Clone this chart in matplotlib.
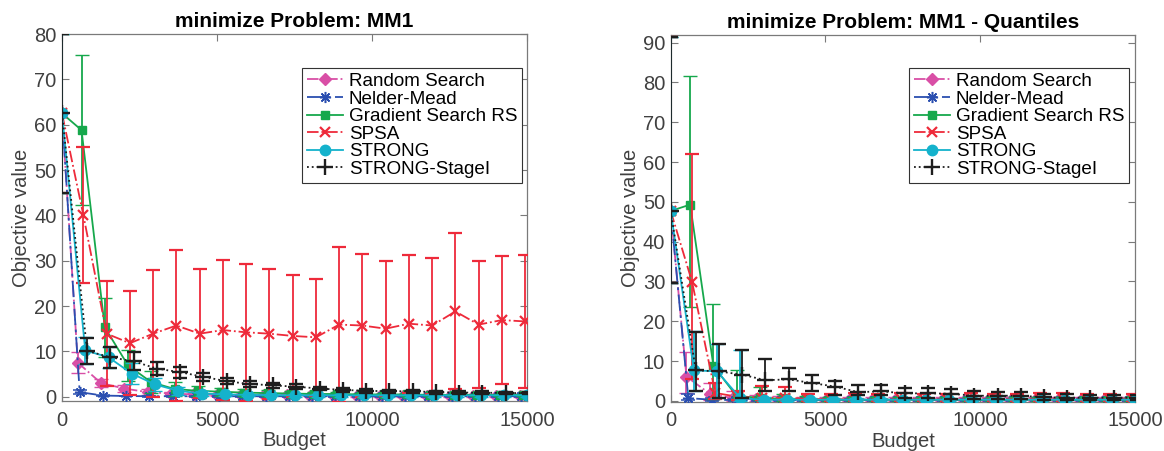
import numpy as np
import matplotlib
matplotlib.use("Agg")
import matplotlib.pyplot as plt
from matplotlib.lines import Line2D

plt.rcParams['font.family'] = ['Liberation Sans', 'DejaVu Sans']
FS = 14.5

# ---------------- data ----------------
budget = [0, 750, 1500, 2250, 3000, 3750, 4500, 5250, 6000, 6750, 7500,
          8250, 9000, 9750, 10500, 11250, 12000, 12750, 13500, 14250, 15000]

algorithms = ["Random Search", "Nelder-Mead", "Gradient Search RS",
              "SPSA", "STRONG", "STRONG-StageI"]

# MM1: mean objective value and half-width of the error bar
rs_mean = [62.5, 7.5, 3.0, 1.8, 1.0, 0.7, 0.5, 0.4, 0.35, 0.3, 0.3,
           0.25, 0.25, 0.2, 0.2, 0.2, 0.2, 0.2, 0.2, 0.2, 0.2]
rs_err = [17.5, 2.3, 0.9, 0.8, 0.6, 0.4, 0.3, 0.3, 0.25, 0.2, 0.2,
          0.2, 0.2, 0.2, 0.2, 0.2, 0.2, 0.2, 0.2, 0.2, 0.2]
nm_mean = [62.5, 1.0, 0.25, 0.15, 0.1, 0.1, 0.1, 0.1, 0.1, 0.1, 0.1,
           0.1, 0.1, 0.1, 0.1, 0.1, 0.1, 0.1, 0.1, 0.1, 0.1]
nm_err = [17.5, 0.4, 0.2, 0.1, 0.1, 0.1, 0.1, 0.1, 0.1, 0.1, 0.1,
          0.1, 0.1, 0.1, 0.1, 0.1, 0.1, 0.1, 0.1, 0.1, 0.1]
gs_mean = [62.5, 58.8, 15.3, 6.9, 3.2, 1.7, 1.3, 1.1, 0.9, 0.8, 0.7,
           0.6, 0.6, 0.5, 0.5, 0.5, 0.4, 0.4, 0.4, 0.4, 0.4]
gs_err = [17.5, 16.5, 6.5, 3.4, 2.4, 1.5, 1.1, 0.9, 0.8, 0.6, 0.5,
          0.5, 0.4, 0.4, 0.4, 0.3, 0.3, 0.3, 0.3, 0.3, 0.3]
spsa_mean = [62.5, 40.0, 13.9, 11.8, 13.9, 15.7, 13.9, 14.7, 14.2, 13.9, 13.4,
             13.1, 15.9, 15.7, 15.0, 16.1, 15.7, 18.8, 15.9, 16.9, 16.6]
spsa_err = [17.5, 15.0, 11.6, 11.5, 14.0, 16.6, 14.2, 15.4, 15.1, 14.3, 13.4,
            12.9, 17.1, 15.8, 14.9, 15.2, 15.0, 17.2, 14.0, 14.2, 14.6]
strong_mean = [62.5, 10.2, 8.7, 5.1, 2.7, 1.3, 0.7, 0.5, 0.4, 0.35, 0.3,
               0.3, 0.3, 0.3, 0.3, 0.3, 0.3, 0.3, 0.3, 0.3, 0.3]
strong_err = [17.5, 2.9, 2.3, 2.4, 1.4, 0.9, 0.5, 0.4, 0.3, 0.3, 0.3,
              0.3, 0.3, 0.3, 0.3, 0.3, 0.3, 0.3, 0.3, 0.3, 0.3]
stage_mean = [62.5, 10.1, 8.7, 7.8, 6.2, 5.4, 4.4, 3.4, 2.8, 2.5, 2.2,
              1.8, 1.5, 1.3, 1.2, 1.2, 1.0, 0.9, 0.9, 0.8, 0.8]
stage_err = [17.5, 2.9, 2.3, 2.0, 1.5, 1.2, 0.9, 0.7, 0.6, 0.5, 0.5,
             0.4, 0.4, 0.4, 0.3, 0.3, 0.3, 0.3, 0.3, 0.3, 0.3]

# MM1 quantiles: median, lower and upper quantile
rs_q_mid = [47.7, 6.1, 1.8, 0.7, 0.4, 0.3, 0.3, 0.3, 0.3, 0.3, 0.3,
            0.3, 0.3, 0.3, 0.3, 0.3, 0.3, 0.3, 0.3, 0.3, 0.3]
rs_q_lo = [29.5, 2.1, 0.3, 0.1, 0.05, 0.05, 0.05, 0.05, 0.05, 0.05, 0.05,
           0.05, 0.05, 0.05, 0.05, 0.05, 0.05, 0.05, 0.05, 0.05, 0.05]
rs_q_hi = [91.5, 12.2, 4.6, 2.5, 1.5, 1.2, 1.0, 1.0, 1.0, 1.0, 1.0,
           1.0, 1.0, 1.0, 1.0, 1.0, 1.0, 1.0, 1.0, 1.0, 1.0]
nm_q_mid = [47.7, 0.7, 0.3, 0.2, 0.2, 0.2, 0.2, 0.2, 0.2, 0.2, 0.2,
            0.2, 0.2, 0.2, 0.2, 0.2, 0.2, 0.2, 0.2, 0.2, 0.2]
nm_q_lo = [29.5, 0.2, 0.1, 0.05, 0.05, 0.05, 0.05, 0.05, 0.05, 0.05, 0.05,
           0.05, 0.05, 0.05, 0.05, 0.05, 0.05, 0.05, 0.05, 0.05, 0.05]
nm_q_hi = [91.5, 1.8, 0.8, 0.5, 0.5, 0.5, 0.5, 0.5, 0.5, 0.5, 0.5,
           0.5, 0.5, 0.5, 0.5, 0.5, 0.5, 0.5, 0.5, 0.5, 0.5]
gs_q_mid = [47.7, 49.3, 8.8, 1.2, 0.8, 0.5, 0.4, 0.3, 0.3, 0.3, 0.3,
            0.3, 0.3, 0.3, 0.3, 0.3, 0.3, 0.3, 0.3, 0.3, 0.3]
gs_q_lo = [29.5, 23.7, 0.5, 0.3, 0.2, 0.1, 0.1, 0.1, 0.1, 0.1, 0.1,
           0.1, 0.1, 0.1, 0.1, 0.1, 0.1, 0.1, 0.1, 0.1, 0.1]
gs_q_hi = [91.5, 81.5, 24.4, 7.8, 3.5, 1.8, 1.3, 1.1, 1.0, 1.0, 1.0,
           1.0, 1.0, 1.0, 1.0, 1.0, 1.0, 1.0, 1.0, 1.0, 1.0]
spsa_q_mid = [47.7, 29.9, 2.0, 1.0, 0.8, 0.8, 0.5, 0.4, 0.4, 0.4, 0.4,
              0.4, 0.4, 0.4, 0.4, 0.4, 0.4, 0.4, 0.4, 0.4, 0.4]
spsa_q_lo = [29.5, 5.5, 0.5, 0.2, 0.2, 0.2, 0.1, 0.1, 0.1, 0.1, 0.1,
             0.1, 0.1, 0.1, 0.1, 0.1, 0.1, 0.1, 0.1, 0.1, 0.1]
spsa_q_hi = [91.5, 61.9, 4.5, 2.5, 3.8, 3.6, 1.8, 1.8, 2.0, 1.8, 1.9,
             1.8, 1.7, 2.0, 1.8, 1.8, 1.9, 2.0, 1.8, 1.7, 1.8]
strong_q_mid = [47.7, 7.7, 7.4, 0.7, 0.3, 0.3, 0.3, 0.3, 0.3, 0.3, 0.3,
                0.3, 0.3, 0.3, 0.3, 0.3, 0.3, 0.3, 0.3, 0.3, 0.3]
strong_q_lo = [29.5, 2.5, 0.7, 0.1, 0.05, 0.05, 0.05, 0.05, 0.05, 0.05, 0.05,
               0.05, 0.05, 0.05, 0.05, 0.05, 0.05, 0.05, 0.05, 0.05, 0.05]
strong_q_hi = [91.5, 17.5, 14.3, 12.7, 1.0, 0.8, 0.7, 0.7, 0.7, 0.7, 0.7,
               0.7, 0.7, 0.7, 0.7, 0.7, 0.7, 0.7, 0.7, 0.7, 0.7]
stage_q_mid = [47.7, 7.7, 7.4, 6.6, 5.2, 5.4, 4.5, 3.6, 2.2, 2.4, 1.9,
               1.9, 1.8, 1.3, 1.3, 1.3, 0.9, 0.8, 0.8, 0.8, 0.8]
stage_q_lo = [29.5, 2.4, 0.7, 0.7, 2.4, 2.6, 2.4, 1.5, 1.5, 1.5, 0.7,
              0.7, 0.6, 0.5, 0.4, 0.4, 0.3, 0.3, 0.3, 0.3, 0.3]
stage_q_hi = [91.5, 17.3, 14.3, 12.8, 10.4, 8.3, 6.4, 5.0, 3.9, 3.9, 3.2,
              3.2, 2.9, 2.6, 2.3, 2.2, 1.8, 1.7, 1.6, 1.5, 1.5]

# ---------------- styles ----------------
colors = ["#d94fa6", "#2b4fb0", "#16a84c", "#ee2a3a", "#14b2cc", "#1e1e1e"]
markers = ["D", (8, 2, 0), "s", "x", "o", "+"]
msizes = [6.5, 8, 5.5, 7, 7.5, 11]
mews = [1.0, 1.1, 1.0, 1.6, 1.0, 1.7]
linestyles = ["-.", (0, (9, 2.5, 1.5, 2.5)), "-", "-.", "-", ":"]
dodge = [-240, -180, -120, -60, 0, 60]

mm1_mean = [rs_mean, nm_mean, gs_mean, spsa_mean, strong_mean, stage_mean]
mm1_err = [rs_err, nm_err, gs_err, spsa_err, strong_err, stage_err]
q_mid = [rs_q_mid, nm_q_mid, gs_q_mid, spsa_q_mid, strong_q_mid, stage_q_mid]
q_lo = [rs_q_lo, nm_q_lo, gs_q_lo, spsa_q_lo, strong_q_lo, stage_q_lo]
q_hi = [rs_q_hi, nm_q_hi, gs_q_hi, spsa_q_hi, strong_q_hi, stage_q_hi]

W, H = 1164, 451
fig = plt.figure(figsize=(W / 100, H / 100), dpi=100)
ax1 = fig.add_axes([62 / W, 50 / H, 465 / W, 367 / H])
ax2 = fig.add_axes([670.7 / W, 49.3 / H, 464.3 / W, 366.7 / H])

b = np.array(budget, dtype=float)


def draw(ax, mids, yerrs):
    for i in range(len(algorithms)):
        x = b + np.where(b > 0, dodge[i], 0)
        ax.errorbar(x, mids[i], yerr=yerrs[i], color=colors[i],
                    ls=linestyles[i], lw=1.3, marker=markers[i],
                    ms=msizes[i], mew=mews[i], mfc=colors[i], mec=colors[i],
                    elinewidth=1.3, capsize=5, capthick=1.3, zorder=2 + i)


draw(ax1, mm1_mean, mm1_err)
draw(ax2, q_mid,
     [np.vstack([np.array(m) - np.array(lo), np.array(hi) - np.array(m)])
      for m, lo, hi in zip(q_mid, q_lo, q_hi)])

handles = [Line2D([], [], color=colors[i], ls=linestyles[i], lw=1.3,
                  marker=markers[i], ms=msizes[i], mew=mews[i],
                  mfc=colors[i], mec=colors[i]) for i in range(len(algorithms))]

spine_c = "#7a7a7a"
text_c = "#404040"
for ax, ylim, yticks, title, leg_x, leg_y in [
        (ax1, (-0.95, 80), np.arange(0, 81, 10), "minimize Problem: MM1", 0.989, 0.907),
        (ax2, (-0.2, 91.9), np.arange(0, 91, 10), "minimize Problem: MM1 - Quantiles", 0.987, 0.910)]:
    ax.set_xlim(0, 15000)
    ax.set_ylim(*ylim)
    ax.set_xticks([0, 5000, 10000, 15000])
    ax.set_yticks(yticks)
    ax.tick_params(direction="in", top=True, right=True, length=5, width=0.8,
                   color=spine_c, labelcolor=text_c, labelsize=FS)
    ax.tick_params(axis="x", pad=7)
    ax.tick_params(axis="y", pad=4)
    for s in ax.spines.values():
        s.set_color(spine_c)
        s.set_linewidth(0.9)
    ax.set_xlabel("Budget", fontsize=FS, color=text_c, labelpad=1)
    ax.set_ylabel("Objective value", fontsize=FS, color=text_c, labelpad=2)
    ax.set_title(title, fontsize=15, fontweight="bold", color="black", pad=5)
    leg = ax.legend(handles, algorithms, loc="upper right",
                    bbox_to_anchor=(leg_x, leg_y), borderaxespad=0,
                    fontsize=13.6, frameon=True, fancybox=False,
                    handlelength=1.9, handletextpad=0.3, labelspacing=0.02,
                    borderpad=0.25, framealpha=1)
    leg.get_frame().set_edgecolor("#333333")
    leg.get_frame().set_linewidth(0.8)
    for t in leg.get_texts():
        t.set_color("black")

fig.savefig("out.png", dpi=100)
